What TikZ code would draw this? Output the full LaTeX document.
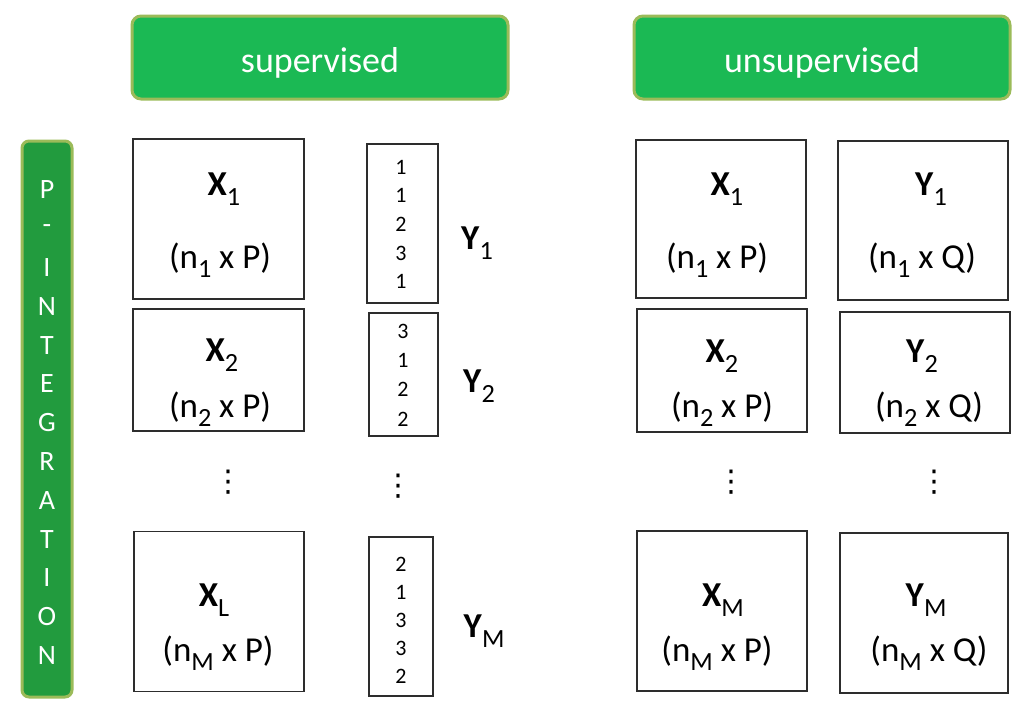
\documentclass[tikz,border=0pt]{standalone}
\usepackage{fontspec}
\setmainfont{Carlito}
\newfontfamily\symfont{DejaVu Sans}
\definecolor{hdrgreen}{RGB}{27,185,84}
\definecolor{bargreen}{RGB}{34,155,62}
\definecolor{olivegreen}{RGB}{155,187,89}
\definecolor{boxline}{RGB}{45,45,45}
\newcommand\subl[1]{\raisebox{-0.27em}{\scalebox{0.75}{#1}}}
\begin{document}
\begin{tikzpicture}[x=1pt,y=-1pt,
  hdr/.style={draw=olivegreen, line width=3pt, fill=hdrgreen, rounded corners=9pt,
    minimum width=376pt, minimum height=83pt, inner sep=0pt},
  hdrtext/.style={text=white, font=\fontsize{36}{40}\selectfont, inner sep=0pt},
  bar/.style={draw=olivegreen, line width=3pt, fill=bargreen, rounded corners=7pt,
    minimum width=50pt, minimum height=556pt, inner sep=0pt},
  barletter/.style={text=white, font=\fontsize{28}{30}\selectfont, inner sep=0pt},
  mat/.style={draw=boxline, line width=1.5pt, fill=white, inner sep=0pt},
  lbl/.style={font=\fontsize{35}{38}\selectfont, inner sep=0pt},
  num/.style={font=\fontsize{22}{24}\selectfont, inner sep=0pt},
  vdotsn/.style={font=\symfont\fontsize{30}{32}\selectfont, inner sep=0pt}]
\useasboundingbox (0,0) rectangle (1024,707);

% headers
\node[hdr] (hsup) at (320,57.5) {};
\node[hdrtext] (hsupt) at (320,63) {supervised};
\node[hdr] (hunsup) at (822,57.5) {};
\node[hdrtext] (hunsupt) at (822,63) {unsupervised};

% vertical bar
\node[bar] (pbar) at (47,419) {};
\foreach \ch [count=\i from 0] in {P,-,I,N,T,E,G,R,A,T,I,O,N}{
  \node[barletter] (bl\i) at (47,{190+38.8*\i}) {\ch};
}

% supervised: X matrices
\node[mat, minimum width=171pt, minimum height=160pt] (sx1) at (218.5,219) {};
\node[lbl] (sx1a) at (224,189) {\textbf{X}\subl{1}};
\node[lbl] (sx1b) at (220,260) {(n\subl{1} x P)};

\node[mat, minimum width=171pt, minimum height=122pt] (sx2) at (218.5,370) {};
\node[lbl] (sx2a) at (222,355) {\textbf{X}\subl{2}};
\node[lbl] (sx2b) at (220,409) {(n\subl{2} x P)};

\node[vdotsn] (sxd) at (228,482) {⋮};

\node[mat, minimum width=170pt, minimum height=160pt] (sxl) at (219,611.5) {};
\node[lbl] (sxla) at (214,600) {\textbf{X}\subl{L}};
\node[lbl] (sxlb) at (218,653) {(n\subl{M} x P)};

% supervised: Y vectors
\node[mat, minimum width=71pt, minimum height=159pt] (sy1) at (402.5,223.5) {};
\foreach \v [count=\i from 0] in {1,1,2,3,1}{
  \node[num] (sy1n\i) at (401,{167+28.7*\i}) {\v};
}
\node[lbl] (sy1l) at (477,243) {\textbf{Y}\subl{1}};

\node[mat, minimum width=69pt, minimum height=123pt] (sy2) at (403.5,374.5) {};
\foreach \v [count=\i from 0] in {3,1,2,2}{
  \node[num] (sy2n\i) at (403,{331+29.3*\i}) {\v};
}
\node[lbl] (sy2l) at (479,386) {\textbf{Y}\subl{2}};

\node[vdotsn] (syd) at (398,486) {⋮};

\node[mat, minimum width=64pt, minimum height=159pt] (sym) at (401,616.5) {};
\foreach \v [count=\i from 0] in {2,1,3,3,2}{
  \node[num] (symn\i) at (401,{564+28.2*\i}) {\v};
}
\node[lbl] (syml) at (484,631) {\textbf{Y}\subl{M}};

% unsupervised: X matrices
\node[mat, minimum width=170pt, minimum height=158pt] (ux1) at (721,219) {};
\node[lbl] (ux1a) at (727,189) {\textbf{X}\subl{1}};
\node[lbl] (ux1b) at (717,260) {(n\subl{1} x P)};

\node[mat, minimum width=170pt, minimum height=123pt] (ux2) at (722,370.5) {};
\node[lbl] (ux2a) at (722,356) {\textbf{X}\subl{2}};
\node[lbl] (ux2b) at (722,409) {(n\subl{2} x P)};

\node[vdotsn] (uxd) at (731,482) {⋮};

\node[mat, minimum width=170pt, minimum height=160pt] (uxm) at (722,611) {};
\node[lbl] (uxma) at (723,600) {\textbf{X}\subl{M}};
\node[lbl] (uxmb) at (717,653) {(n\subl{M} x P)};

% unsupervised: Y matrices
\node[mat, minimum width=170pt, minimum height=159pt] (uy1) at (923,220.5) {};
\node[lbl] (uy1a) at (931,189) {\textbf{Y}\subl{1}};
\node[lbl] (uy1b) at (922,260) {(n\subl{1} x Q)};

\node[mat, minimum width=170pt, minimum height=121pt] (uy2) at (925,372.5) {};
\node[lbl] (uy2a) at (922,356) {\textbf{Y}\subl{2}};
\node[lbl] (uy2b) at (929,409) {(n\subl{2} x Q)};

\node[vdotsn] (uyd) at (934,482) {⋮};

\node[mat, minimum width=168pt, minimum height=160pt] (uym) at (924,613) {};
\node[lbl] (uyma) at (926,600) {\textbf{Y}\subl{M}};
\node[lbl] (uymb) at (929,653) {(n\subl{M} x Q)};
\end{tikzpicture}
\end{document}
